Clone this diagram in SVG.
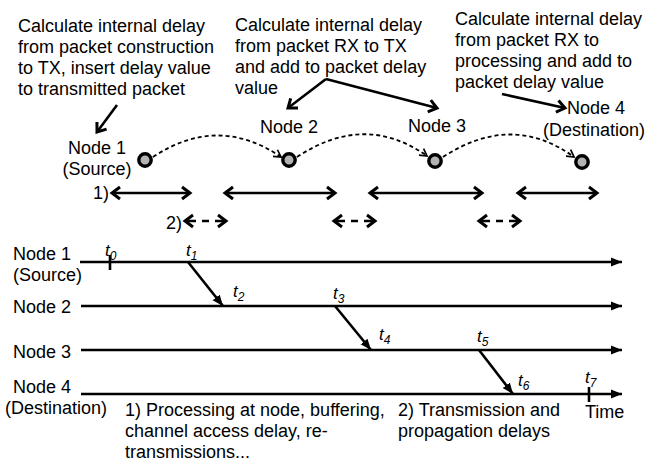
<svg xmlns="http://www.w3.org/2000/svg" width="648" height="461" viewBox="0 0 648 461">
<style>
text{font-family:"Liberation Sans",Arial,sans-serif;font-size:18px;fill:#000}
.t{font-style:italic;font-size:17px}
.s{font-size:12px}
.ln{stroke:#000;stroke-width:2.6;fill:none}
.dash{stroke:#000;stroke-width:1.8;fill:none;stroke-dasharray:4 3}
.node{fill:#b3b3b3;stroke:#000;stroke-width:3.4}
</style>
<defs>
<marker id="chev" markerUnits="userSpaceOnUse" markerWidth="14" markerHeight="16" refX="11" refY="8" orient="auto-start-reverse" viewBox="0 0 14 16">
<path d="M3,2 L11,8 L3,14" fill="none" stroke="#000" stroke-width="3"/>
</marker>
<marker id="thin" markerUnits="userSpaceOnUse" markerWidth="12" markerHeight="12" refX="10" refY="6" orient="auto" viewBox="0 0 12 12">
<path d="M3,2 L10,6 L3,10" fill="none" stroke="#000" stroke-width="1.7"/>
</marker>
<marker id="tri" markerUnits="userSpaceOnUse" markerWidth="12" markerHeight="12" refX="11" refY="6" orient="auto" viewBox="0 0 12 12">
<path d="M0,1.5 L11,6 L0,10.5 Z" fill="#000"/>
</marker>
</defs>

<g id="note1">
<text x="18" y="32">Calculate internal delay</text>
<text x="18" y="53">from packet construction</text>
<text x="18" y="74">to TX, insert delay value</text>
<text x="18" y="95">to transmitted packet</text>
</g>
<g id="note2">
<text x="235" y="31">Calculate internal delay</text>
<text x="235" y="52">from packet RX to TX</text>
<text x="235" y="73">and add to packet delay</text>
<text x="235" y="94">value</text>
</g>
<g id="note3">
<text x="455" y="25">Calculate internal delay</text>
<text x="455" y="46">from packet RX to</text>
<text x="455" y="67">processing and add to</text>
<text x="455" y="88">packet delay value</text>
</g>

<g id="node1">
<text x="97" y="154" text-anchor="middle">Node 1</text>
<text x="97" y="175" text-anchor="middle">(Source)</text>
<circle class="node" cx="145" cy="160" r="6.2"/>
</g>
<g id="node2">
<text x="260" y="133">Node 2</text>
<circle class="node" cx="289" cy="160" r="6.2"/>
</g>
<g id="node3">
<text x="408" y="132">Node 3</text>
<circle class="node" cx="435" cy="161" r="6.2"/>
</g>
<g id="node4">
<text x="567" y="114">Node 4</text>
<text x="543" y="136">(Destination)</text>
<circle class="node" cx="582" cy="162" r="6.2"/>
</g>

<g id="connectors">
<line class="ln" x1="117" y1="105" x2="97" y2="132" marker-end="url(#chev)"/>
<line class="ln" x1="326" y1="79" x2="288" y2="108" marker-end="url(#chev)"/>
<line class="ln" x1="326" y1="79" x2="437" y2="108" marker-end="url(#chev)"/>
<line class="ln" x1="502" y1="94" x2="565" y2="108" marker-end="url(#chev)"/>

<path class="dash" d="M153,157 Q218,114 281,157" marker-end="url(#thin)"/>
<path class="dash" d="M297,157 Q365,112 427,156" marker-end="url(#thin)"/>
<path class="dash" d="M443,157 Q512,112 574,157" marker-end="url(#thin)"/>

<line class="ln" x1="112" y1="193" x2="190" y2="193" marker-start="url(#chev)" marker-end="url(#chev)"/>
<line class="ln" x1="225" y1="193" x2="335" y2="193" marker-start="url(#chev)" marker-end="url(#chev)"/>
<line class="ln" x1="370" y1="193" x2="482" y2="193" marker-start="url(#chev)" marker-end="url(#chev)"/>
<line class="ln" x1="518" y1="193" x2="597" y2="193" marker-start="url(#chev)" marker-end="url(#chev)"/>

<line class="ln" x1="185" y1="221" x2="226" y2="221" stroke-dasharray="11 6 7 6 11 40" marker-start="url(#chev)" marker-end="url(#chev)"/>
<line class="ln" x1="334" y1="221" x2="375" y2="221" stroke-dasharray="11 6 7 6 11 40" marker-start="url(#chev)" marker-end="url(#chev)"/>
<line class="ln" x1="479" y1="221" x2="520" y2="221" stroke-dasharray="11 6 7 6 11 40" marker-start="url(#chev)" marker-end="url(#chev)"/>

<line class="ln" x1="80" y1="262" x2="622" y2="262" marker-end="url(#tri)"/>
<line class="ln" x1="81" y1="306" x2="622" y2="306" marker-end="url(#tri)"/>
<line class="ln" x1="81" y1="350" x2="622" y2="350" marker-end="url(#tri)"/>
<line class="ln" x1="81" y1="394" x2="622" y2="394" marker-end="url(#tri)"/>

<line class="ln" x1="110" y1="255" x2="110" y2="270" stroke-width="3"/>
<line class="ln" x1="589" y1="387" x2="589" y2="402" stroke-width="3"/>

<line class="ln" x1="188" y1="262" x2="223" y2="306" marker-end="url(#tri)"/>
<line class="ln" x1="335" y1="306" x2="371" y2="350" marker-end="url(#tri)"/>
<line class="ln" x1="479" y1="350" x2="513" y2="394" marker-end="url(#tri)"/>
</g>

<g id="labels">
<text x="93" y="199">1)</text>
<text x="166" y="229">2)</text>

<text x="13" y="260">Node 1</text>
<text x="13" y="281">(Source)</text>
<text x="13" y="313">Node 2</text>
<text x="13" y="358">Node 3</text>
<text x="13" y="393">Node 4</text>
<text x="5" y="414">(Destination)</text>

<text class="t" x="105" y="256">t<tspan class="s" dy="4">0</tspan></text>
<text class="t" x="186" y="256">t<tspan class="s" dy="4">1</tspan></text>
<text class="t" x="233" y="297">t<tspan class="s" dy="4">2</tspan></text>
<text class="t" x="333" y="299">t<tspan class="s" dy="4">3</tspan></text>
<text class="t" x="379" y="340">t<tspan class="s" dy="4">4</tspan></text>
<text class="t" x="477" y="342">t<tspan class="s" dy="4">5</tspan></text>
<text class="t" x="518" y="386">t<tspan class="s" dy="4">6</tspan></text>
<text class="t" x="585" y="383">t<tspan class="s" dy="4">7</tspan></text>

<text x="585" y="418">Time</text>
<text x="125" y="416">1) Processing at node, buffering,</text>
<text x="125" y="437">channel access delay, re-</text>
<text x="125" y="458">transmissions...</text>
<text x="398" y="416">2) Transmission and</text>
<text x="398" y="437">propagation delays</text>
</g>
</svg>
